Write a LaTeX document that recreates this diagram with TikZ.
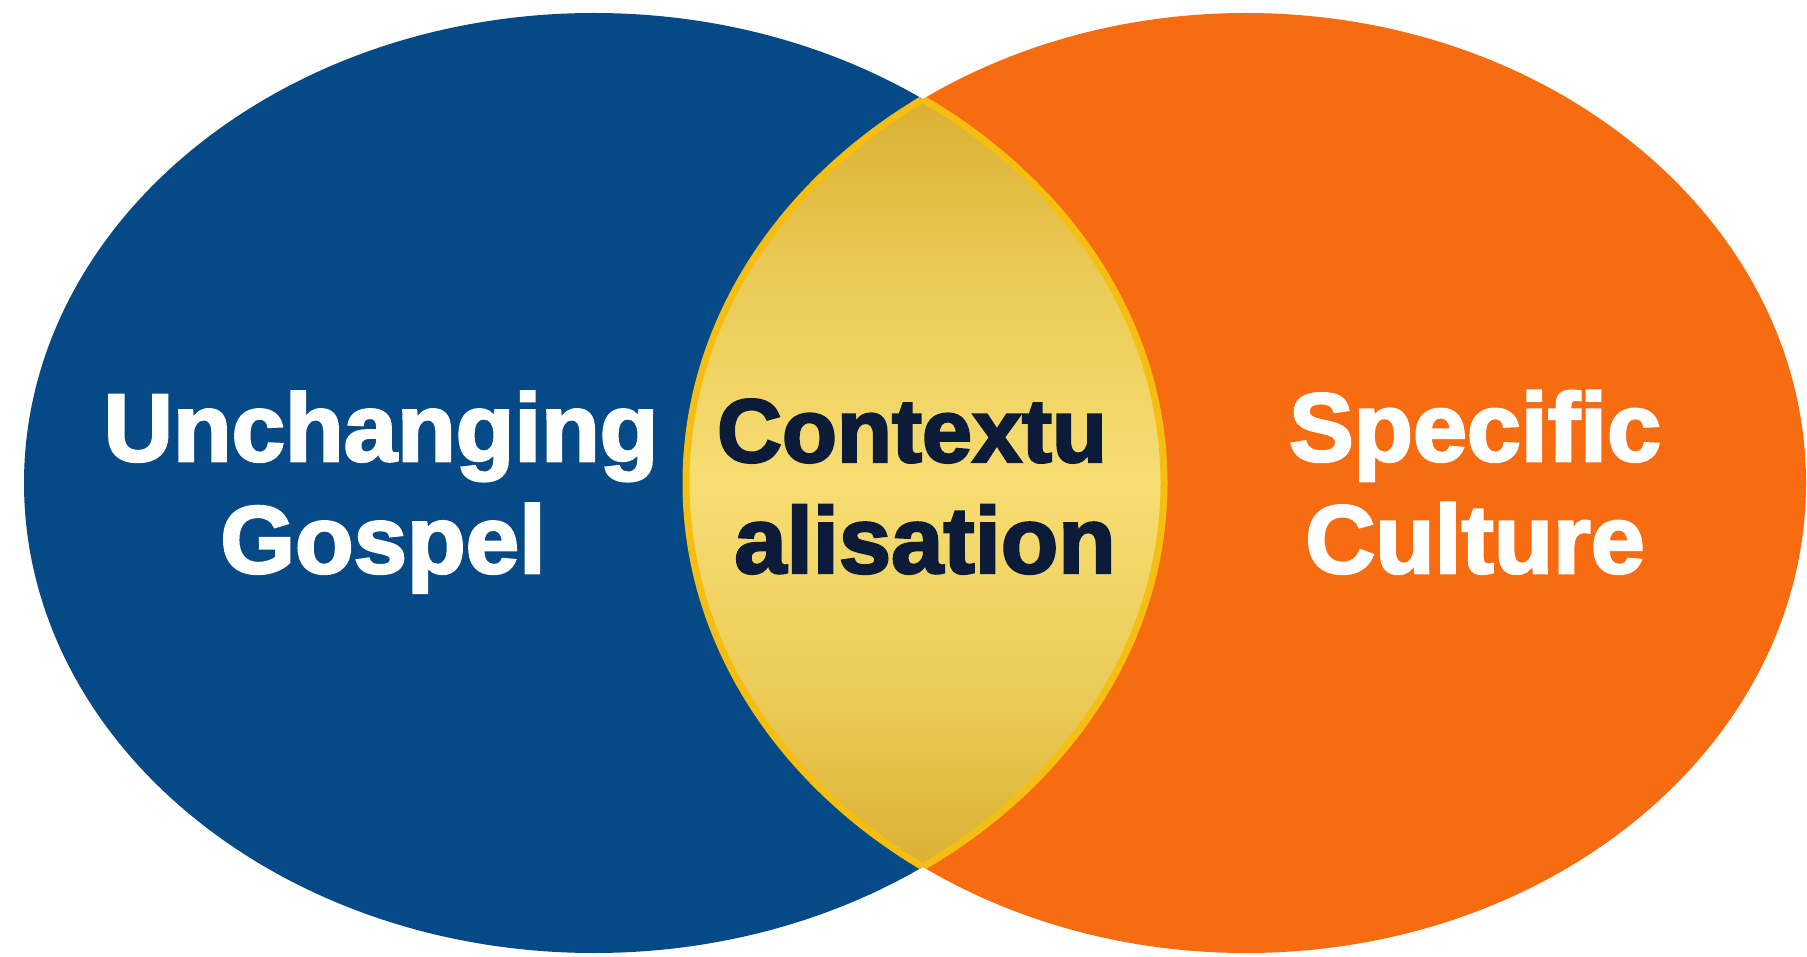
\documentclass[tikz,border=0pt]{standalone}
\usepackage{fontspec}
\setmainfont{Liberation Sans}[BoldFeatures={FakeBold=2.6}]
\definecolor{gospelblue}{HTML}{054A87}
\definecolor{cultureorange}{HTML}{F76B11}
\definecolor{golddark}{HTML}{BE8C05}
\definecolor{goldmid}{HTML}{D2A420}
\definecolor{goldsoft}{HTML}{EBCB58}
\definecolor{goldlight}{HTML}{F7DD72}
\definecolor{goldedge}{HTML}{F7BE12}
\definecolor{navytext}{HTML}{0C1C38}
\pgfdeclareverticalshading{lensshade}{100bp}{color(0bp)=(golddark); color(20bp)=(goldmid); color(36bp)=(goldsoft); color(50bp)=(goldlight); color(63bp)=(goldsoft); color(80bp)=(goldmid); color(100bp)=(golddark)}
\tikzset{
  setA/.style={fill=gospelblue},
  setB/.style={fill=cultureorange},
  lensedge/.style={draw=goldedge, line width=7pt},
  whitelbl/.style={text=white, font=\bfseries\fontsize{96}{110}\selectfont, anchor=base, inner sep=0pt},
  darklbl/.style={text=navytext, anchor=base, inner sep=0pt},
}
\begin{document}
\begin{tikzpicture}[x=1pt,y=-1pt]
\fill[white] (0,0) rectangle (1807,957);
\useasboundingbox (0,0) rectangle (1807,957);
% main sets
\fill[setA] (594,483) ellipse [x radius=570pt, y radius=470pt];
\fill[setB] (1246,483) ellipse [x radius=560pt, y radius=470pt];
% lens
\begin{scope}
  \clip (594,483) ellipse [x radius=570pt, y radius=470pt];
  \clip (1246,483) ellipse [x radius=560pt, y radius=470pt];
  \fill[shading=lensshade] (680,98) rectangle (1170,868);
\end{scope}
\begin{scope}
  \clip (594,483) ellipse [x radius=570pt, y radius=470pt];
  \draw[lensedge] (1246,483) ellipse [x radius=560pt, y radius=470pt];
\end{scope}
\begin{scope}
  \clip (1246,483) ellipse [x radius=560pt, y radius=470pt];
  \draw[lensedge] (594,483) ellipse [x radius=570pt, y radius=470pt];
\end{scope}
% labels
\node[whitelbl] (u1) at (381,461) {Unchanging};
\node[whitelbl] (u2) at (383,573) {Gospel};
\node[whitelbl, font=\bfseries\fontsize{97}{110}\selectfont] (s1) at (1475,461) {Specific};
\node[whitelbl, font=\bfseries\fontsize{97}{110}\selectfont] (s2) at (1475,573) {Culture};
\node[darklbl, font=\bfseries\fontsize{90}{110}\selectfont] (c1) at (912,462) {Contextu};
\node[darklbl, font=\bfseries\fontsize{94}{110}\selectfont] (c2) at (925,573) {alisation};
\end{tikzpicture}
\end{document}
